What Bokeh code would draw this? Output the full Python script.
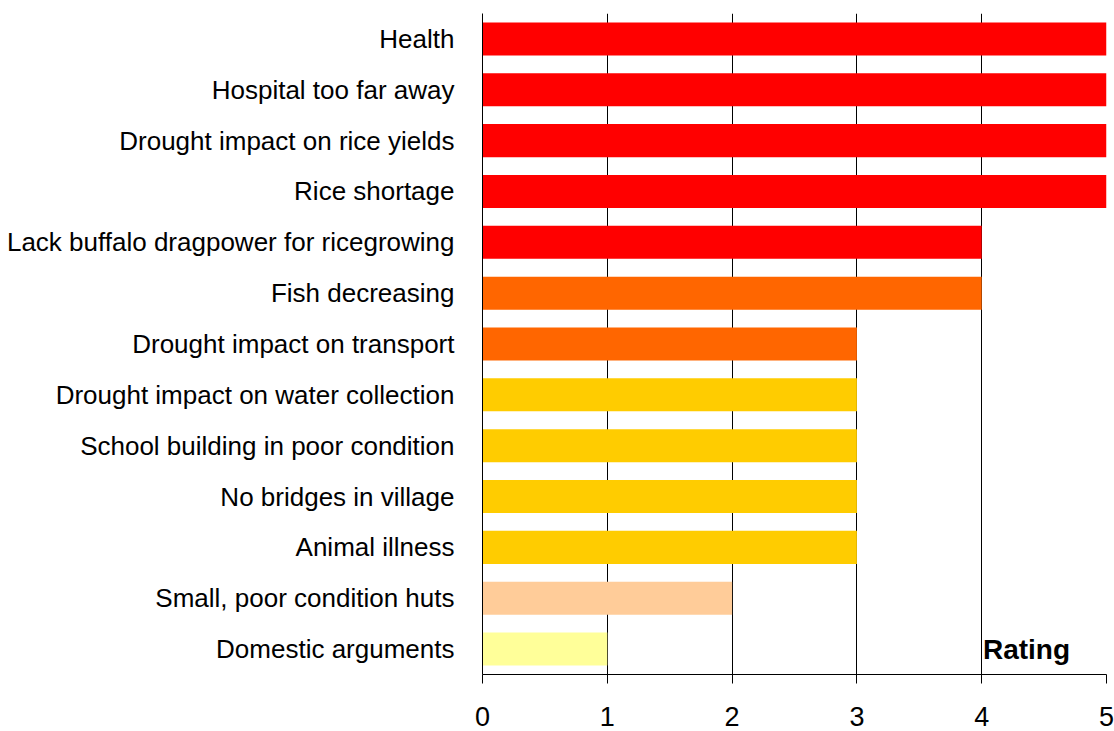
from bokeh.plotting import figure
from bokeh.models import ColumnDataSource, FactorRange, Range1d, FixedTicker
from bokeh.core.properties import value
from bokeh.embed import file_html
from bokeh.resources import INLINE

categories = [
    "Health",
    "Hospital too far away",
    "Drought impact on rice yields",
    "Rice shortage",
    "Lack buffalo dragpower for ricegrowing",
    "Fish decreasing",
    "Drought impact on transport",
    "Drought impact on water collection",
    "School building in poor condition",
    "No bridges in village",
    "Animal illness",
    "Small, poor condition huts",
    "Domestic arguments",
]
ratings = [5, 5, 5, 5, 4, 4, 3, 3, 3, 3, 3, 2, 1]
colors = ["#FF0000", "#FF0000", "#FF0000", "#FF0000", "#FF0000",
          "#FF6600", "#FF6600",
          "#FFCC00", "#FFCC00", "#FFCC00", "#FFCC00",
          "#FFCC99", "#FFFF99"]
x_ticks = [0, 1, 2, 3, 4, 5]
axis_title = "Rating"

FONT = "Liberation Sans"

src = ColumnDataSource(dict(cat=categories, val=ratings, color=colors))

p = figure(
    width=1114, height=731,
    y_range=FactorRange(*reversed(categories), range_padding=0),
    x_range=Range1d(0, 5),
    output_backend="svg", toolbar_location=None,
    min_border_left=482, min_border_right=8, min_border_top=13, min_border_bottom=57,
)
p.outline_line_color = None
p.background_fill_color = "white"
p.border_fill_color = "white"

p.hbar(y="cat", right="val", left=0, height=0.65, fill_color="color",
       line_color=None, source=src)

# x axis
p.xaxis.ticker = FixedTicker(ticks=x_ticks)
p.xaxis.axis_line_color = "black"
p.xaxis.major_tick_line_color = "black"
p.xaxis.major_tick_in = 0
p.xaxis.major_tick_out = 9
p.xaxis.minor_tick_line_color = None
p.xaxis.major_label_text_font = FONT
p.xaxis.major_label_text_font_size = "27px"
p.xaxis.major_label_text_color = "black"
p.xaxis.major_label_standoff = 23

# y axis
p.yaxis.axis_line_color = "black"
p.yaxis.major_tick_line_color = None
p.yaxis.minor_tick_line_color = None
p.yaxis.major_label_text_font = FONT
p.yaxis.major_label_text_font_size = "26px"
p.yaxis.major_label_text_color = "black"
p.yaxis.major_label_standoff = 22

p.xgrid.ticker = FixedTicker(ticks=x_ticks[1:])
p.xgrid.grid_line_color = "black"
p.xgrid.grid_line_width = 1
p.ygrid.grid_line_color = None

tsrc = ColumnDataSource(dict(x=[4.01], y=[categories[-1]], t=[axis_title]))
p.text(x="x", y="y", text="t", source=tsrc, text_font=value(FONT),
       text_font_size="28px", text_font_style="bold", text_color="black",
       text_baseline="middle", text_align="left")

open("out.html", "w").write(file_html(p, INLINE))
